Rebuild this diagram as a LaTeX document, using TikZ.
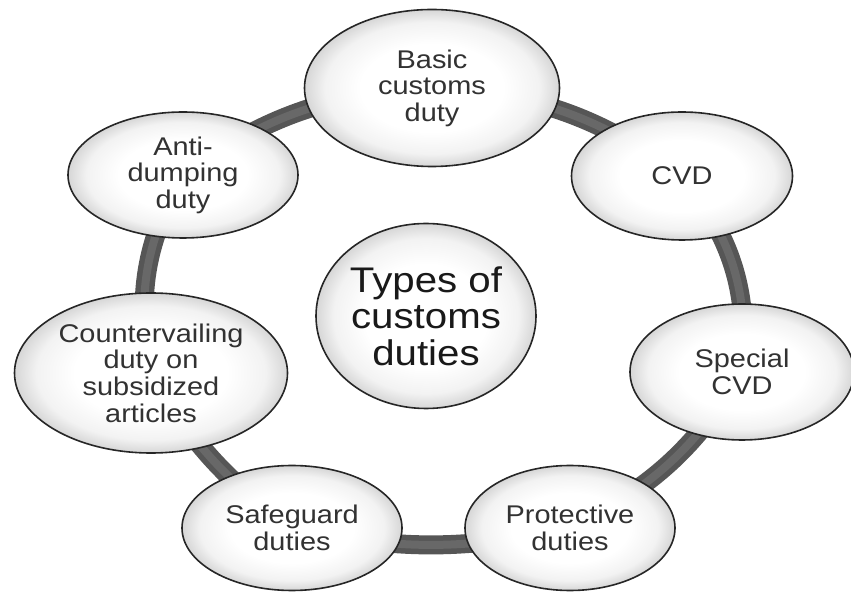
\documentclass[tikz,border=0pt]{standalone}
\usepackage{fontspec}
\setmainfont[FakeStretch=1.13]{Liberation Sans}
\usetikzlibrary{shapes.geometric,backgrounds}
\definecolor{ringcol}{RGB}{86,86,86}
\definecolor{ringlite}{RGB}{104,104,104}
\definecolor{txtcol}{RGB}{50,50,50}
\pgfdeclareradialshading{bubble}{\pgfpoint{0bp}{0bp}}{color(0bp)=(white); color(14bp)=(white); color(21bp)=(black!5); color(25bp)=(black!16); color(50bp)=(black!16)}

\begin{document}
\begin{tikzpicture}[x=0.5pt,y=0.5pt,
  duty/.style={ellipse,draw=black!85,line width=0.8pt,shading=bubble,
    inner sep=0pt,align=center,text=txtcol,
    font=\fontsize{12.8}{13.3}\selectfont},
  hub/.style={duty,text=black!90,font=\fontsize{17.8}{18.3}\selectfont},
  ring/.style={line width=9.5pt,ringcol,
    postaction={draw=ringlite,line width=4pt}}]
  \useasboundingbox (0,0) rectangle (851,-592);
  % the seven kinds round the hub
  \node[duty,minimum width=127.5pt,minimum height=78.5pt] (basic) at (432,-88) {Basic\\customs\\duty};
  \node[duty,minimum width=110.5pt,minimum height=64pt]   (cvd)   at (682,-176) {CVD};
  \node[duty,minimum width=112pt,minimum height=68pt]     (scvd)  at (742,-372) {Special\\CVD};
  \node[duty,minimum width=105pt,minimum height=62.5pt]   (prot)  at (570,-528) {Protective\\duties};
  \node[duty,minimum width=110pt,minimum height=62.5pt]   (safe)  at (292,-528) {Safeguard\\duties};
  \node[duty,minimum width=136.5pt,minimum height=80pt]   (count) at (151,-373) {Countervailing\\duty on\\subsidized\\articles};
  \node[duty,minimum width=115pt,minimum height=63pt]     (anti)  at (183,-175) {Anti-\\dumping\\duty};
  \node[hub,minimum width=110pt,minimum height=92.5pt]    (types) at (426,-316) {Types of\\customs\\duties};
  % the ring behind them
  \begin{scope}[on background layer]
    \draw[ring] (basic.center) to[bend left=16] (cvd.center)
      to[bend left=22] (scvd.center) to[bend left=16] (prot.center)
      to[bend left=12] (safe.center) to[bend left=12] (count.center)
      to[bend left=20] (anti.center) to[bend left=16] (basic.center);
  \end{scope}
\end{tikzpicture}
\end{document}
